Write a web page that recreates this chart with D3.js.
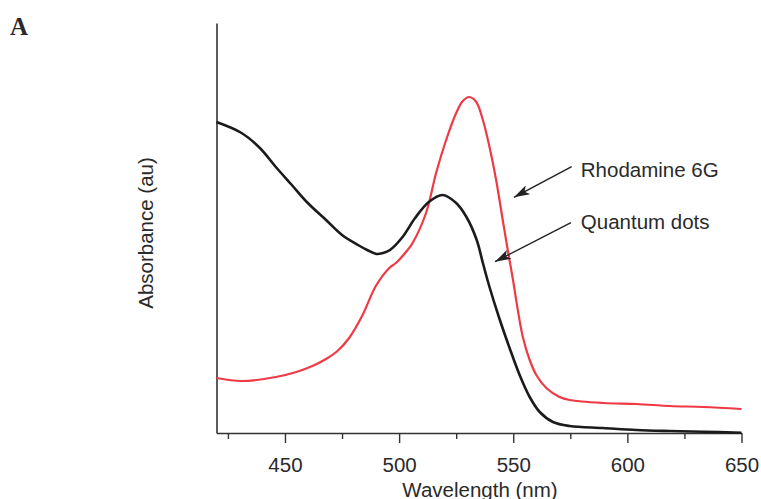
<!DOCTYPE html>
<html>
<head>
<meta charset="utf-8">
<script src="https://cdn.jsdelivr.net/npm/d3@7"></script>
<style>
  html, body { margin: 0; padding: 0; background: #fff; }
  svg { display: block; }
  text { font-family: "Liberation Sans", Arial, Helvetica, sans-serif; fill: #2a2a2a; }
</style>
</head>
<body>
<svg id="chart" width="761" height="499"></svg>
<script>
// Absorbance spectra (arbitrary units) sampled by wavelength in nm
const qdWavelength = [420, 431, 439, 446, 453, 460, 468, 475, 482, 486, 490, 493, 496, 501.5, 507, 513, 519, 525, 529.5, 534, 536.7, 539.6, 544, 548.4, 552.8, 557.2, 561.6, 567.4, 574.7, 589.4, 604, 618.6, 633.3, 650];
const qdAbsorbance = [3.11, 3.00, 2.85, 2.66, 2.48, 2.30, 2.13, 1.98, 1.88, 1.83, 1.79, 1.80, 1.83, 1.96, 2.15, 2.31, 2.38, 2.30, 2.16, 1.93, 1.70, 1.46, 1.14, 0.85, 0.58, 0.36, 0.21, 0.11, 0.07, 0.05, 0.03, 0.02, 0.013, 0.003];

const r6gWavelength = [420, 431, 446, 455, 462, 468, 473, 478.1, 484, 489.8, 495.7, 498.6, 503, 505.9, 511.8, 516.2, 520.6, 525, 527.9, 530.8, 533.8, 536.7, 539.6, 542.5, 545.4, 547.6, 549.9, 552, 554.2, 557.2, 560.1, 564.5, 570.3, 574.7, 589.4, 604, 618.6, 633.3, 650];
const r6gAbsorbance = [0.55, 0.52, 0.56, 0.61, 0.67, 0.74, 0.82, 0.95, 1.18, 1.47, 1.65, 1.70, 1.81, 1.90, 2.20, 2.60, 2.93, 3.20, 3.32, 3.36, 3.31, 3.13, 2.86, 2.53, 2.13, 1.83, 1.53, 1.23, 0.96, 0.73, 0.58, 0.45, 0.36, 0.33, 0.30, 0.29, 0.27, 0.26, 0.24];

const majorTicks = [450, 500, 550, 600, 650];
const minorTicks = [425, 475, 525, 575, 625];

// Annotation labels with arrow start/end in data coordinates [nm, au]
const labels = ["Rhodamine 6G", "Quantum dots"];
const labelAnchor = [[579.6, 2.565], [579.6, 2.045]];
const arrowFrom = [[575.6, 2.663], [575.3, 2.103]];
const arrowTo = [[550.3, 2.357], [542.0, 1.713]];

const svg = d3.select("#chart");
const x = d3.scaleLinear().domain([420, 650]).range([216.5, 741.5]);
const y = d3.scaleLinear().domain([0, 4.1]).range([433, 23]);

// Axes
const axisColor = "#333";
const gx = svg.append("g").attr("transform", `translate(0,${y(0)})`)
  .call(d3.axisBottom(x).tickValues(majorTicks).tickSize(10).tickSizeOuter(0).tickFormat(d3.format("d")));
gx.select(".domain").attr("stroke", axisColor).attr("stroke-width", 1.6);
gx.selectAll(".tick line").attr("stroke", axisColor).attr("stroke-width", 1.4);
gx.selectAll(".tick text").attr("y", 24).attr("dy", "0.71em")
  .style("font-size", "20.5px").style("font-family", "'Liberation Sans', Arial, sans-serif").attr("fill", "#2a2a2a");

const gxm = svg.append("g").attr("transform", `translate(0,${y(0)})`)
  .call(d3.axisBottom(x).tickValues(minorTicks).tickSize(6).tickFormat(""));
gxm.select(".domain").remove();
gxm.selectAll(".tick line").attr("stroke", axisColor).attr("stroke-width", 1.4);

const gy = svg.append("g").attr("transform", `translate(${x(420)},0)`)
  .call(d3.axisLeft(y).tickValues([]).tickSizeOuter(0));
gy.select(".domain").attr("stroke", axisColor).attr("stroke-width", 1.6);

// Axis titles
svg.append("text").attr("x", 480).attr("y", 496.5).attr("text-anchor", "middle")
  .style("font-size", "20.5px").text("Wavelength (nm)");
svg.append("text").attr("transform", "translate(153,233) rotate(-90)").attr("text-anchor", "middle")
  .style("font-size", "20.5px").text("Absorbance (au)");

// Panel letter
svg.append("text").attr("x", 10).attr("y", 35)
  .style("font-family", "'Liberation Serif', 'Times New Roman', serif").style("font-weight", "bold")
  .style("font-size", "25px").attr("fill", "#000").text("A");

// Spectra
const line = d3.line().x(d => x(d[0])).y(d => y(d[1])).curve(d3.curveCatmullRom.alpha(0.5));
svg.append("path").datum(d3.zip(r6gWavelength, r6gAbsorbance))
  .attr("d", line).attr("fill", "none").attr("stroke", "#ee3a44").attr("stroke-width", 2.2);
svg.append("path").datum(d3.zip(qdWavelength, qdAbsorbance))
  .attr("d", line).attr("fill", "none").attr("stroke", "#1b1b1b").attr("stroke-width", 2.6);

// Arrows
svg.append("defs").append("marker")
  .attr("id", "head").attr("viewBox", "0 0 16 10").attr("refX", 16).attr("refY", 5)
  .attr("markerWidth", 16).attr("markerHeight", 10).attr("markerUnits", "userSpaceOnUse")
  .attr("orient", "auto")
  .append("path").attr("d", "M0,0 L16,5 L0,10 L4,5 Z").attr("fill", "#222");

labels.forEach((t, i) => {
  svg.append("line")
    .attr("x1", x(arrowFrom[i][0])).attr("y1", y(arrowFrom[i][1]))
    .attr("x2", x(arrowTo[i][0])).attr("y2", y(arrowTo[i][1]))
    .attr("stroke", "#222").attr("stroke-width", 1.5).attr("marker-end", "url(#head)");
  svg.append("text").attr("x", x(labelAnchor[i][0])).attr("y", y(labelAnchor[i][1]))
    .style("font-size", "20.5px").text(t);
});
</script>
</body>
</html>
